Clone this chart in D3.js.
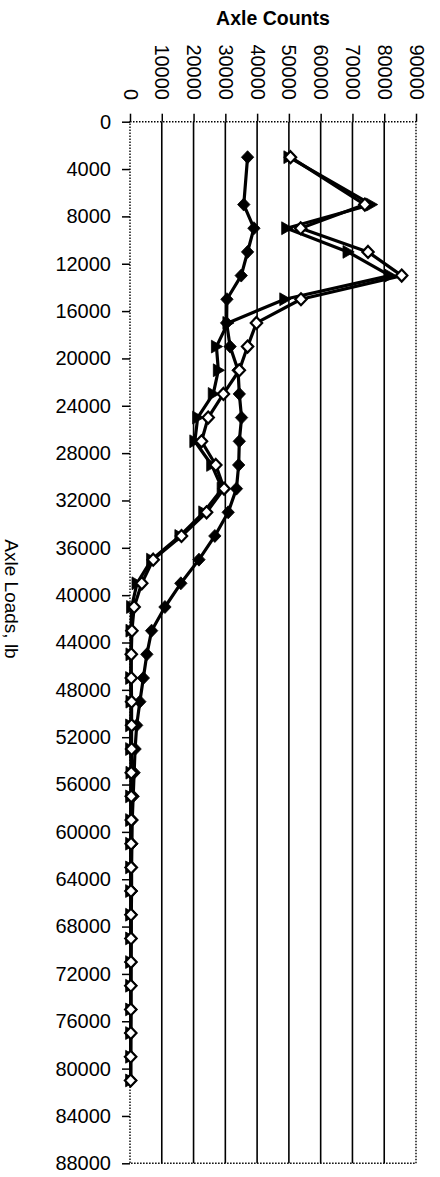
<!DOCTYPE html>
<html>
<head>
<meta charset="utf-8">
<script src="https://cdn.jsdelivr.net/npm/d3@7"></script>
<style>
html,body{margin:0;padding:0;background:#fff;}
svg{display:block;}
text{font-family:"Liberation Sans",Arial,sans-serif;fill:#000;}
</style>
</head>
<body>
<svg id="chart" width="440" height="1177"></svg>
<script>
// ---- data ----
const axleLoads = [3000,7000,9000,11000,13000,15000,17000,19000,21000,23000,25000,27000,29000,31000,33000,35000,37000,39000,41000,43000,45000,47000,49000,51000,53000,55000,57000,59000,61000,63000,65000,67000,69000,71000,73000,75000,77000,79000,81000];
const seriesFilledDiamond = [37000,35800,39000,37000,35000,30500,30400,31500,34000,34400,35100,34400,34200,33500,30900,26700,21700,16000,11000,6800,5300,4200,3100,2100,1600,1300,1000,700,600,500,500,400,400,300,300,300,200,200,200];
const seriesOpenDiamond = [50500,73900,53700,74900,85500,53800,39800,37000,34400,29400,24600,22500,27000,29600,24100,16200,7300,3700,1300,600,400,400,500,500,500,400,400,400,350,350,300,300,300,300,250,250,250,200,200];
const seriesTriangle = [50000,76000,49300,68600,81800,48700,30800,27200,27800,26200,21300,20400,25700,29000,23200,15700,6800,2200,500,300,300,200,300,200,200,300,200,200,200,200,200,200,200,200,200,200,200,200,200];
const countTicks = [0,10000,20000,30000,40000,50000,60000,70000,80000,90000];
const loadTicks = [0,4000,8000,12000,16000,20000,24000,28000,32000,36000,40000,44000,48000,52000,56000,60000,64000,68000,72000,76000,80000,84000,88000];
const titleCounts = "Axle Counts";
const titleLoads = "Axle Loads, lb";

// ---- layout ----
const L = 130, R = 416, T = 121.7, B = 1163.3;
const svg = d3.select("#chart");
const x = d3.scaleLinear().domain([0, 90000]).range([L, R]);
const y = d3.scaleLinear().domain([0, 88000]).range([T, B]);

// gridlines
svg.append("g").selectAll("line")
  .data(countTicks.filter(d => d > 0 && d < 90000))
  .join("line")
  .attr("x1", d => x(d)).attr("x2", d => x(d))
  .attr("y1", T).attr("y2", B)
  .attr("stroke", "#000").attr("stroke-width", 1.6);

// plot border (dotted)
svg.append("rect")
  .attr("x", L).attr("y", T).attr("width", R - L).attr("height", B - T)
  .attr("fill", "none").attr("stroke", "#000")
  .attr("stroke-width", 1.4).attr("stroke-dasharray", "1.5,1.5");

// top axis (counts)
const topAxis = svg.append("g").attr("transform", `translate(0,${T})`)
  .call(d3.axisTop(x).tickValues(countTicks).tickSize(8).tickFormat(d => String(d)));
topAxis.select(".domain").remove();
topAxis.selectAll(".tick line").attr("stroke", "#000").attr("stroke-width", 1.5);
topAxis.selectAll(".tick text")
  .attr("x", 0).attr("y", 0).attr("dy", "0.35em")
  .attr("text-anchor", "end")
  .attr("transform", `translate(0,${100 - T}) rotate(90)`)
  .style("font-size", "20px").style("font-family", "Liberation Sans, Arial, sans-serif");

// left axis (loads)
const leftAxis = svg.append("g").attr("transform", `translate(${L},0)`)
  .call(d3.axisLeft(y).tickValues(loadTicks).tickSize(8).tickPadding(11).tickFormat(d => String(d)));
leftAxis.select(".domain").remove();
leftAxis.selectAll(".tick line").attr("stroke", "#000").attr("stroke-width", 1.5);
leftAxis.selectAll(".tick text")
  .style("font-size", "20px").style("font-family", "Liberation Sans, Arial, sans-serif");

// titles
svg.append("text").attr("x", 273).attr("y", 25).attr("text-anchor", "middle")
  .style("font-size", "19.5px").style("font-weight", "bold").text(titleCounts);
svg.append("text").attr("transform", "translate(5,599) rotate(90)")
  .attr("text-anchor", "middle").style("font-size", "19px").text(titleLoads);

// series
const line = d3.line().x(d => x(d[1])).y(d => y(d[0]));
function drawSeries(values, marker) {
  const pts = axleLoads.map((l, i) => [l, values[i]]);
  const g = svg.append("g");
  g.append("path").attr("d", line(pts)).attr("fill", "none")
    .attr("stroke", "#000").attr("stroke-width", 3.2).attr("stroke-linejoin", "round");
  const m = g.selectAll("path.m").data(pts).join("path").attr("class", "m")
    .attr("transform", d => `translate(${x(d[1])},${y(d[0])})`);
  if (marker === "filledDiamond") {
    m.attr("d", "M0,-6.5L6.2,0L0,6.5L-6.2,0Z").attr("fill", "#000").attr("stroke", "#000").attr("stroke-width", 0.8);
  } else if (marker === "openDiamond") {
    m.attr("d", "M0,-6L5.7,0L0,6L-5.7,0Z").attr("fill", "#fff").attr("stroke", "#000").attr("stroke-width", 2.2);
  } else {
    m.attr("d", "M-5,-6.4L6.2,0L-5,6.4Z").attr("fill", "#000").attr("stroke", "#000").attr("stroke-width", 0.8);
  }
}
drawSeries(seriesFilledDiamond, "filledDiamond");
drawSeries(seriesTriangle, "triangle");
drawSeries(seriesOpenDiamond, "openDiamond");
</script>
</body>
</html>
